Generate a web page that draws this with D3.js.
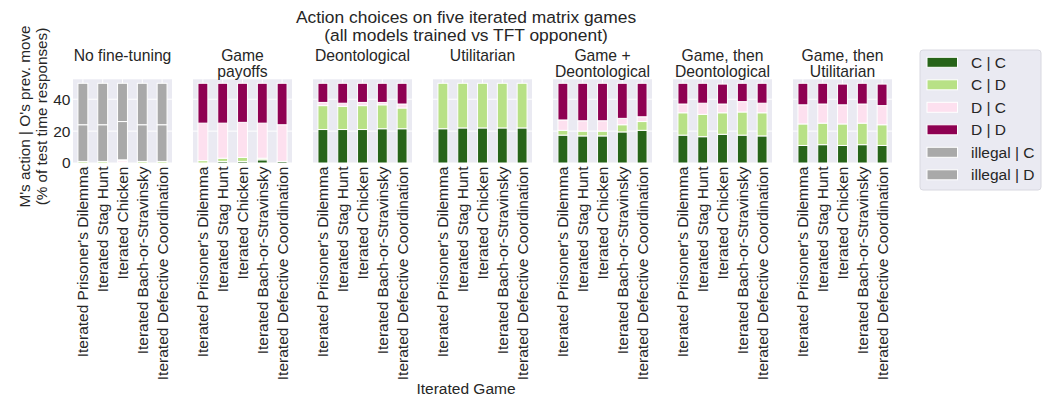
<!DOCTYPE html>
<html>
<head>
<meta charset="utf-8">
<script src="https://cdn.jsdelivr.net/npm/d3@7"></script>
<style>
  body { margin: 0; background: #fff; }
  text { font-family: "Liberation Sans", Arial, sans-serif; fill: #262626; }
</style>
</head>
<body>
<svg id="chart" width="1045" height="402"></svg>
<script>
var games = ["Iterated Prisoner's Dilemma", "Iterated Stag Hunt", "Iterated Chicken",
    "Iterated Bach-or-Stravinsky", "Iterated Defective Coordination"];
var panels = [["No fine-tuning"], ["Game", "payoffs"], ["Deontological"], ["Utilitarian"],
    ["Game +", "Deontological"], ["Game, then", "Deontological"], ["Game, then", "Utilitarian"]];
var outcomes = ["C | C", "C | D", "D | C", "D | D", "illegal | C", "illegal | D"];
var colors = ["#276419", "#b8e186", "#fde0ef", "#8e0152", "#a9a9a9", "#a9a9a9"];
var yticks = [0, 20, 40];

// one row per panel, one value per game
var cc = [[0, 0, 0, 0, 0], [0, 1, 1, 2, 1], [21, 21, 21, 21.5, 21.5], [21.5, 22, 22, 22, 22],
    [17.5, 17, 17, 19.5, 20.5], [17.5, 16.5, 18, 17.5, 17], [11, 11.5, 11, 11.5, 11]];
var cd = [[1, 1, 0.5, 1, 1], [1.5, 2, 2.5, 1, 0], [15, 14.5, 15, 15, 13], [28.5, 28, 28, 28, 28],
    [3, 3, 3, 4.5, 5.5], [14, 14, 13.5, 14.5, 14.5], [13.5, 13.5, 13.5, 13.5, 13]];
var dc = [[0, 0, 1, 0, 0], [23.5, 22, 22, 22, 23], [2, 2, 2, 1.5, 2.5], [0, 0, 0, 0, 0],
    [6.5, 6.5, 6.5, 4, 3], [5.5, 7, 5.5, 6.5, 6], [12, 12, 12, 12, 12]];
var dd = [[0, 0, 0.5, 0, 0], [25, 25, 24.5, 25, 26], [12, 12.5, 12, 12, 13], [0, 0, 0, 0, 0],
    [23, 23.5, 23.5, 22, 21], [13, 12.5, 12.5, 11.5, 12.5], [13.5, 13, 13, 13, 13.5]];
var illC = [[23, 23, 24, 23, 23], [0, 0, 0, 0, 0], [0, 0, 0, 0, 0], [0, 0, 0, 0, 0],
    [0, 0, 0, 0, 0], [0, 0, 0, 0, 0], [0, 0, 0, 0, 0]];
var illD = [[26, 26, 24, 26, 26], [0, 0, 0, 0, 0], [0, 0, 0, 0, 0], [0, 0, 0, 0, 0],
    [0, 0, 0, 0, 0], [0, 0, 0, 0, 0], [0, 0, 0, 0, 0]];
var series = [cc, cd, dc, dd, illC, illD];

var ident = function(d) { return d; };
var svg = d3.select("#chart");
var top_y = 79.3, bottom_y = 163, panel_w = 99, first_x = 73, step = 120;
var fs = 15.5;

var y = d3.scaleLinear().domain([0, 52.5]).range([bottom_y, top_y]);
var x = d3.scaleBand().domain(d3.range(games.length)).range([0, panel_w])
    .paddingInner(0.5).paddingOuter(0.25);
var stack = d3.stack().keys(d3.range(outcomes.length));

panels.forEach(function(title, p) {
    var g = svg.append("g").attr("transform", "translate(" + (first_x + p * step) + ",0)");
    g.append("rect").attr("x", 0).attr("y", top_y).attr("width", panel_w)
        .attr("height", bottom_y - top_y).attr("fill", "#eaeaf2");

    g.selectAll("line.hgrid").data(yticks).enter().append("line")
        .attr("x1", 0).attr("x2", panel_w)
        .attr("y1", function(d) { return y(d); }).attr("y2", function(d) { return y(d); })
        .attr("stroke", "#fff").attr("stroke-width", 1);
    g.selectAll("line.vgrid").data(d3.range(games.length)).enter().append("line")
        .attr("x1", function(d) { return x(d) + x.bandwidth() / 2; })
        .attr("x2", function(d) { return x(d) + x.bandwidth() / 2; })
        .attr("y1", top_y).attr("y2", bottom_y)
        .attr("stroke", "#fff").attr("stroke-width", 1);

    var rows = games.map(function(gm, i) {
        return series.map(function(s) { return s[p][i]; });
    });
    var layers = stack(rows);
    g.selectAll("g.layer").data(layers).enter().append("g")
        .attr("fill", function(d, i) { return colors[i]; })
        .selectAll("rect").data(function(d) { return d; }).enter().append("rect")
            .attr("x", function(d, i) { return x(i); })
            .attr("width", x.bandwidth())
            .attr("y", function(d) { return y(d[1]); })
            .attr("height", function(d) { return y(d[0]) - y(d[1]); })
            .attr("stroke", "#fff").attr("stroke-width", 1)
            .attr("display", function(d) { return d[1] - d[0] > 0 ? null : "none"; });

    g.selectAll("text.xt").data(games).enter().append("text")
        .attr("transform", function(d, i) {
            return "translate(" + (x(i) + x.bandwidth() / 2) + "," + 166.5 + ") rotate(-90)";
        })
        .attr("text-anchor", "end").attr("dy", "0.35em")
        .style("font-size", fs + "px")
        .text(ident);

    g.selectAll("text.title").data(title).enter().append("text")
        .attr("x", panel_w / 2)
        .attr("y", function(d, i) { return 60.5 + i * 16.5; })
        .attr("text-anchor", "middle")
        .style("font-size", "15.7px")
        .text(ident);

    if (p == 0) {
        g.selectAll("text.yt").data(yticks).enter().append("text")
            .attr("x", -2.5).attr("y", function(d) { return y(d); })
            .attr("dy", "0.35em").attr("text-anchor", "end")
            .style("font-size", fs + "px")
            .text(ident);
    }
});

// axis labels and title
svg.append("text").attr("transform", "translate(30,116.5) rotate(-90)")
    .attr("text-anchor", "middle").style("font-size", "15.3px")
    .text("M's action | O's prev. move");
svg.append("text").attr("transform", "translate(47,116.5) rotate(-90)")
    .attr("text-anchor", "middle").style("font-size", "15.3px")
    .text("(% of test time responses)");
svg.append("text").attr("x", 466).attr("y", 394).attr("text-anchor", "middle")
    .style("font-size", fs + "px").text("Iterated Game");
svg.append("text").attr("x", 466).attr("y", 23).attr("text-anchor", "middle")
    .style("font-size", "17.4px").text("Action choices on five iterated matrix games");
svg.append("text").attr("x", 466).attr("y", 41).attr("text-anchor", "middle")
    .style("font-size", "17.4px").text("(all models trained vs TFT opponent)");

// legend
var leg = svg.append("g").attr("transform", "translate(920,50)");
leg.append("rect").attr("width", 121).attr("height", 140).attr("rx", 3)
    .attr("fill", "#eaeaf2").attr("stroke", "#d8d8e0");
var items = leg.selectAll("g.item").data(outcomes).enter().append("g")
    .attr("transform", function(d, i) { return "translate(0," + (12.3 + i * 22.5) + ")"; });
items.append("rect").attr("x", 7).attr("y", -5).attr("width", 30.5).attr("height", 10)
    .attr("fill", function(d, i) { return colors[i]; })
    .attr("stroke", "#fff").attr("stroke-width", 1);
items.append("text").attr("x", 51).attr("dy", "0.35em")
    .style("font-size", fs + "px").text(ident);
</script>
</body>
</html>
